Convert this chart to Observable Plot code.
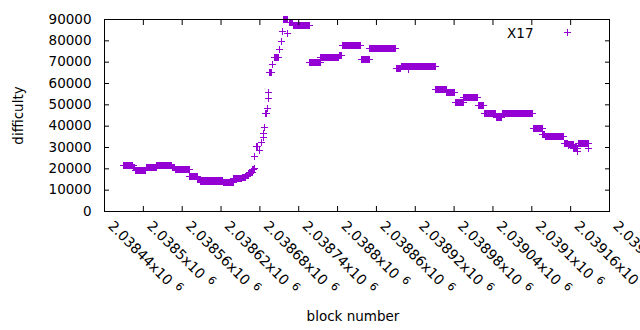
<!DOCTYPE html>
<html><head><meta charset="utf-8">
<script src="https://cdn.jsdelivr.net/npm/d3@7"></script>
<script src="https://cdn.jsdelivr.net/npm/@observablehq/plot@0.6"></script>
<style>body{margin:0;background:#fff;} svg{display:block}</style>
</head><body><div id="chart"></div>
<script>
const seriesName = "X17";
const xLabel = "block number";
const yLabel = "difficulty";
// runs of (nearly) constant difficulty: first block, last block, value
const runStart = [2038470,2038485,2038488,2038505,2038521,2038545,2038549,2038572,2038584,2038589,2038624,2038640,2038653,2038659,2038663,2038666,2038669,2038671,2038672,2038675,2038679,2038682,2038685,2038686,2038687,2038688,2038692,2038693,2038694,2038695,2038700,2038703,2038710,2038713,2038715,2038717,2038723,2038725,2038732,2038757,2038774,2038803,2038807,2038837,2038850,2038891,2038898,2038910,2038911,2038952,2038969,2038982,2038995,2039017,2039027,2039045,2039054,2039102,2039117,2039121,2039150,2039156,2039157,2039165,2039171,2039172,2039188];
const runEnd   = [2038484,2038487,2038504,2038520,2038544,2038548,2038571,2038583,2038588,2038623,2038639,2038652,2038658,2038662,2038665,2038668,2038670,2038671,2038672,2038676,2038679,2038682,2038685,2038686,2038687,2038690,2038692,2038693,2038694,2038698,2038700,2038708,2038710,2038713,2038715,2038722,2038723,2038731,2038756,2038773,2038802,2038806,2038836,2038849,2038890,2038897,2038909,2038910,2038951,2038968,2038981,2038994,2039016,2039026,2039044,2039053,2039101,2039116,2039120,2039149,2039155,2039156,2039164,2039170,2039171,2039187,2039188];
const runValue = [21400,20400,19400,20500,21500,20600,19500,16300,15000,14300,13800,15300,16000,16800,17700,18500,19500,20000,25800,30500,28600,32500,34500,36700,39200,45800,48100,52800,55900,65000,68900,72000,75800,79800,84200,89900,83300,88700,87400,69700,72000,73100,77700,71100,76250,66900,68100,66500,68000,57300,55600,51300,53300,49500,45800,44100,45800,38800,36100,35000,31700,30900,31400,29400,28100,31700,29700];
const xTicks = [2038440,2038500,2038560,2038620,2038680,2038740,2038800,2038860,2038920,2038980,2039040,2039100,2039160,2039220];
const xTickMantissa = ["2.03844","2.0385","2.03856","2.03862","2.03868","2.03874","2.0388","2.03886","2.03892","2.03898","2.03904","2.0391","2.03916","2.03922"];
const xTickExponent = "6";
const yTicks = [0,10000,20000,30000,40000,50000,60000,70000,80000,90000];
const yTickLabels = ["0","10000","20000","30000","40000","50000","60000","70000","80000","90000"];

const points = [];
runStart.forEach((s, i) => {
  for (let b = s; b <= runEnd[i]; b++) points.push({block: b, difficulty: runValue[i]});
});
const labelOf = new Map(xTicks.map((t, i) => [t, xTickMantissa[i]]));
const yLabelOf = new Map(yTicks.map((t, i) => [t, yTickLabels[i]]));
const color = "#9400d3";

const chart = Plot.plot({
  width: 640, height: 330,
  marginLeft: 104, marginRight: 31, marginTop: 19, marginBottom: 119,
  style: {fontFamily: "DejaVu Sans", fontSize: "13.5px", background: "#fff", color: "#000"},
  x: {domain: [2038440, 2039220]},
  y: {domain: [0, 90000]},
  marks: [
    Plot.dot(points, {x: "block", y: "difficulty", symbol: "plus", r: 2.4, stroke: color, strokeWidth: 1, shapeRendering: "crispEdges"}),
    Plot.axisY(yTicks, {anchor: "left", tickSize: 0, tickPadding: 13, tickFormat: d => yLabelOf.get(d), label: null}),
    Plot.axisY(yTicks, {anchor: "left", tickSize: -5, tickFormat: () => "", label: null}),
    Plot.axisY(yTicks, {anchor: "right", tickSize: -5, tickFormat: () => "", label: null}),
    Plot.axisX(xTicks, {anchor: "bottom", tickSize: -5, tickFormat: () => "", label: null}),
    Plot.axisX(xTicks, {anchor: "top", tickSize: -5, tickFormat: () => "", label: null}),
    Plot.axisX(xTicks, {anchor: "bottom", tickSize: 0, tickPadding: 12, tickRotate: 45, dx: 6, fontSize: 14, tickFormat: d => labelOf.get(d) + "x10", label: null}),
    Plot.frame({stroke: "#000"}),
    Plot.text([yLabel], {frameAnchor: "left", rotate: -90, dx: -86, text: d => d, textAnchor: "middle", lineAnchor: "middle"}),
    Plot.text([xLabel], {frameAnchor: "bottom", dx: -4, dy: 105, text: d => d, textAnchor: "middle", lineAnchor: "middle"}),
    Plot.text([seriesName], {frameAnchor: "top-right", dx: -76, dy: 14.4, text: d => d, textAnchor: "end", lineAnchor: "middle"}),
    Plot.dot([seriesName], {frameAnchor: "top-right", dx: -42, dy: 13.3, symbol: "plus", r: 2.4, stroke: color, strokeWidth: 1, shapeRendering: "crispEdges"})
  ]
});
document.getElementById("chart").appendChild(chart);

// superscript exponent on the x tick labels
chart.querySelectorAll('[aria-label="x-axis tick label"] text').forEach(t => {
  if (!t.textContent) return;
  const sup = document.createElementNS("http://www.w3.org/2000/svg", "tspan");
  sup.setAttribute("dx", "6");
  sup.setAttribute("dy", "-5");
  sup.setAttribute("font-size", "11px");
  sup.textContent = xTickExponent;
  t.appendChild(sup);
});
</script>
</body></html>
